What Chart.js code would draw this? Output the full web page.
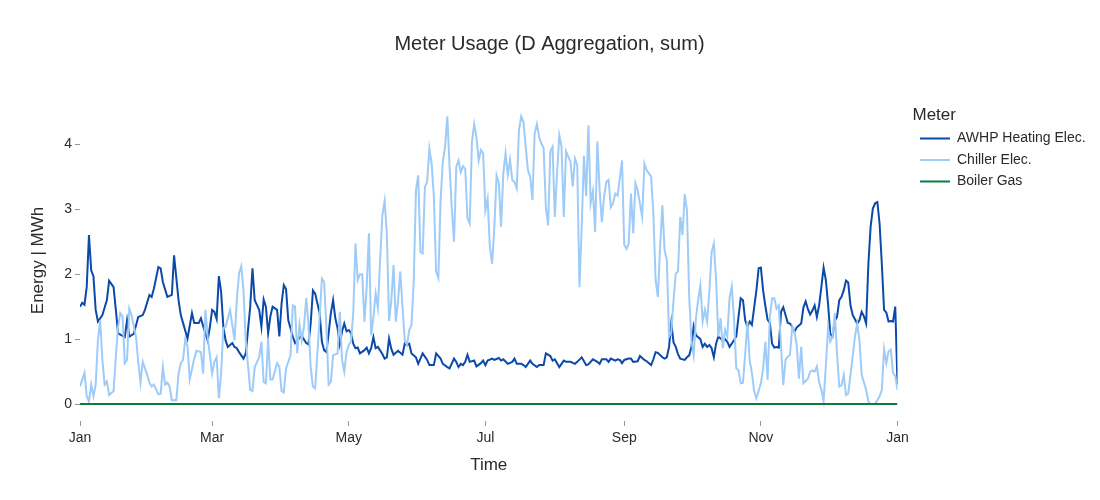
<!DOCTYPE html>
<html>
<head>
<meta charset="utf-8">
<title>Meter Usage</title>
<script src="https://cdn.jsdelivr.net/npm/chart.js@4.4.1/dist/chart.umd.min.js"></script>
<style>
  html, body { margin: 0; padding: 0; background: #fff; }
  #wrap { width: 1100px; height: 500px; }
</style>
</head>
<body>
<div id="wrap"><canvas id="meterChart" width="1100" height="500"></canvas></div>
<script>
// day of year (0 = Jan 1) and daily energy in MWh
const awhpPoints = [
  [0,1.50],[1,1.56],[2,1.53],[3,1.80],[4,2.60],[5,2.06],[6,1.97],[7,1.45],[8,1.27],[10,1.37],
  [12,1.60],[13,1.90],[15,1.80],[16,1.45],[17,1.09],[20,1.03],[21,1.29],[22,1.04],[24,1.08],[26,1.34],
  [28,1.37],[29,1.45],[31,1.68],[32,1.65],[33,1.78],[35,2.11],[36,2.09],[37,1.88],[39,1.65],[41,1.68],
  [42,2.29],[44,1.60],[45,1.37],[46,1.25],[48,1.01],[50,1.40],[51,1.25],[53,1.25],[54,1.32],[55,1.20],
  [57,0.98],[58,1.19],[59,1.45],[60,1.42],[61,1.31],[62,1.97],[63,1.73],[64,1.19],[65,0.98],[66,0.88],
  [68,0.94],[69,0.88],[70,0.86],[71,0.80],[73,0.70],[74,0.78],[76,1.50],[77,2.09],[78,1.60],[80,1.45],
  [81,1.19],[82,1.61],[83,1.50],[84,1.09],[85,1.35],[86,1.50],[88,1.45],[89,1.04],[90,1.55],[91,1.83],
  [92,1.77],[93,1.29],[95,1.04],[96,0.94],[97,0.98],[98,1.02],[99,1.05],[101,0.94],[102,0.92],[103,1.24],
  [104,1.75],[105,1.70],[107,1.40],[108,0.96],[109,0.83],[110,0.80],[111,1.09],[112,1.40],[113,1.60],[114,1.32],
  [115,1.17],[116,0.92],[117,1.12],[118,1.24],[119,1.12],[120,1.14],[121,1.09],[122,0.93],[123,0.86],[124,0.87],
  [125,0.78],[127,0.83],[128,0.87],[129,0.78],[130,0.86],[131,1.03],[132,0.86],[133,0.88],[135,0.77],[136,0.70],
  [137,0.72],[138,1.01],[139,0.85],[140,0.76],[141,0.79],[142,0.82],[144,0.76],[145,0.93],[146,0.91],[147,0.93],
  [148,0.78],[150,0.72],[151,0.62],[152,0.70],[153,0.78],[155,0.68],[156,0.60],[158,0.60],[159,0.78],[161,0.70],
  [162,0.62],[164,0.57],[165,0.55],[167,0.70],[168,0.65],[169,0.57],[170,0.62],[171,0.60],[172,0.65],[173,0.76],
  [174,0.65],[176,0.67],[177,0.58],[179,0.63],[180,0.67],[181,0.60],[182,0.67],[184,0.70],[185,0.68],[187,0.71],
  [188,0.67],[189,0.69],[191,0.62],[193,0.65],[194,0.70],[195,0.62],[197,0.62],[198,0.60],[199,0.57],[201,0.67],
  [202,0.62],[204,0.57],[205,0.60],[207,0.60],[208,0.78],[210,0.74],[211,0.67],[212,0.69],[214,0.57],[216,0.67],
  [217,0.65],[219,0.65],[221,0.62],[222,0.65],[224,0.72],[226,0.60],[227,0.61],[229,0.69],[231,0.65],[232,0.62],
  [233,0.69],[235,0.69],[236,0.65],[237,0.70],[239,0.67],[240,0.69],[241,0.68],[242,0.63],[243,0.68],[245,0.70],
  [246,0.70],[247,0.65],[249,0.66],[250,0.74],[252,0.68],[253,0.66],[255,0.60],[256,0.69],[257,0.80],[258,0.79],
  [260,0.72],[261,0.70],[262,0.72],[263,0.88],[264,1.25],[265,0.95],[266,0.88],[267,0.77],[268,0.70],[270,0.68],
  [271,0.72],[272,0.75],[273,0.88],[274,1.20],[275,1.06],[277,1.00],[278,0.88],[279,0.93],[280,0.88],[281,0.91],
  [282,0.86],[283,0.72],[284,0.93],[285,1.04],[287,0.98],[288,1.00],[289,0.96],[290,0.88],[291,0.93],[293,1.04],
  [294,1.34],[295,1.63],[296,1.60],[297,1.29],[298,1.19],[299,1.27],[300,1.22],[302,1.75],[303,2.09],[304,2.10],
  [305,1.75],[306,1.51],[307,1.30],[308,1.25],[309,0.93],[310,0.87],[311,0.88],[312,0.87],[313,1.42],[314,1.49],
  [315,1.37],[316,1.25],[317,1.24],[318,1.19],[319,1.11],[320,1.18],[322,1.24],[323,1.49],[324,1.58],[325,1.46],
  [326,1.38],[327,1.44],[328,1.52],[329,1.34],[330,1.52],[331,1.80],[332,2.10],[333,1.91],[334,1.54],[335,1.08],
  [336,1.04],[337,1.28],[338,1.34],[339,1.60],[340,1.65],[341,1.75],[342,1.90],[343,1.87],[344,1.52],[345,1.37],
  [347,1.24],[348,1.29],[349,1.42],[350,1.35],[351,1.24],[352,2.16],[353,2.73],[354,3.01],[355,3.09],[356,3.11],
  [357,2.78],[358,2.16],[359,1.45],[360,1.41],[361,1.27],[362,1.28],[363,1.27],[364,1.50],[365,0.30]
];

const chillerPoints = [
  [0,0.27],[2,0.48],[3,0.12],[4,0.04],[5,0.30],[6,0.12],[7,0.30],[8,0.98],[9,1.29],[10,0.68],
  [11,0.30],[12,0.35],[13,0.14],[15,0.20],[16,0.73],[17,1.19],[18,1.40],[19,1.35],[20,0.63],[21,0.68],
  [22,1.47],[23,1.37],[25,1.04],[26,0.65],[27,0.33],[28,0.65],[30,0.45],[31,0.33],[32,0.27],[33,0.30],
  [35,0.15],[36,0.16],[37,0.57],[38,0.30],[39,0.33],[40,0.27],[41,0.06],[43,0.06],[44,0.47],[45,0.63],
  [46,0.68],[47,1.00],[48,0.89],[49,0.38],[51,0.70],[52,0.82],[54,0.80],[55,0.47],[56,1.45],[57,1.04],
  [58,0.75],[59,0.47],[60,0.65],[61,0.72],[62,0.09],[63,0.47],[64,1.17],[65,1.19],[67,1.45],[68,1.22],
  [69,0.98],[70,1.60],[71,2.01],[72,2.12],[73,1.75],[74,0.98],[76,0.22],[77,0.20],[78,0.57],[80,0.72],
  [81,0.96],[82,0.34],[83,0.32],[84,1.00],[85,0.38],[86,0.38],[88,0.63],[89,0.57],[90,0.20],[91,0.18],
  [92,0.55],[94,0.75],[95,1.52],[96,1.50],[97,0.78],[98,1.22],[99,0.98],[100,1.19],[101,1.63],[102,1.24],
  [103,0.57],[104,0.27],[105,0.24],[107,1.34],[108,1.93],[109,1.88],[110,1.19],[111,0.30],[112,0.34],[113,0.75],
  [115,0.78],[116,1.42],[117,0.68],[118,0.50],[119,0.80],[120,0.91],[121,0.96],[122,1.40],[123,2.47],[124,1.91],
  [125,2.00],[126,2.00],[127,1.27],[128,1.80],[129,2.63],[130,1.06],[131,1.33],[132,1.70],[133,1.48],[134,2.22],
  [135,2.91],[136,3.13],[137,2.63],[138,1.28],[139,1.59],[140,2.14],[141,1.27],[142,1.59],[143,2.04],[144,1.49],
  [145,0.98],[146,0.91],[147,1.14],[148,1.22],[149,1.88],[150,3.29],[151,3.52],[152,2.34],[153,2.32],[154,3.34],
  [155,3.42],[156,3.93],[157,3.70],[158,3.19],[159,2.04],[160,1.94],[161,3.14],[162,3.73],[163,3.96],[164,4.43],
  [165,3.66],[166,3.01],[167,2.50],[168,3.65],[169,3.75],[170,3.57],[171,3.66],[172,3.62],[173,2.86],[174,2.78],
  [175,4.04],[176,4.31],[177,4.11],[178,3.75],[179,3.91],[180,3.86],[181,2.98],[182,3.16],[183,2.42],[184,2.16],
  [185,2.72],[186,3.52],[187,3.40],[188,2.73],[189,3.55],[190,3.86],[191,3.53],[192,3.76],[193,3.45],[194,3.42],
  [195,3.32],[196,4.22],[197,4.43],[198,4.34],[199,3.96],[200,3.60],[201,3.50],[202,3.14],[203,4.16],[204,4.31],
  [205,4.11],[206,4.01],[207,3.94],[208,3.04],[209,2.75],[210,3.89],[211,3.96],[212,2.88],[213,3.55],[214,4.14],
  [215,3.96],[216,2.88],[217,3.89],[218,3.81],[219,3.73],[220,3.35],[221,3.78],[222,3.68],[223,1.80],[224,2.72],
  [225,3.82],[226,3.20],[227,4.29],[228,3.09],[229,3.28],[230,2.65],[231,4.04],[232,3.29],[233,2.80],[234,3.19],
  [235,3.42],[236,3.45],[237,3.03],[238,3.09],[239,3.24],[240,3.21],[241,3.47],[242,3.75],[243,2.45],[244,2.39],
  [245,2.47],[246,3.24],[247,2.63],[248,3.40],[249,3.29],[251,2.88],[252,3.70],[253,3.60],[255,3.50],[256,2.93],
  [257,1.91],[258,1.65],[259,2.42],[260,3.06],[261,2.37],[262,2.22],[263,1.04],[264,1.11],[265,1.60],[266,2.01],
  [267,2.04],[268,2.88],[269,2.60],[270,3.23],[271,2.98],[272,1.65],[273,0.98],[274,0.75],[275,1.32],[276,1.60],
  [277,1.83],[278,1.27],[279,1.45],[280,1.27],[281,1.73],[282,2.34],[283,2.47],[284,1.91],[285,1.04],[286,1.32],
  [287,0.86],[288,1.14],[289,1.04],[290,1.63],[291,1.81],[292,1.32],[293,0.55],[294,0.52],[295,0.32],[296,0.33],
  [297,0.77],[298,1.27],[299,0.67],[300,0.48],[301,0.20],[302,0.09],[304,0.32],[305,0.55],[306,0.96],[307,0.37],
  [308,1.34],[309,1.63],[310,1.63],[311,1.47],[312,1.52],[313,0.88],[314,0.29],[315,0.68],[316,0.73],[317,0.76],
  [318,1.19],[319,1.11],[320,0.91],[321,0.39],[322,0.88],[323,0.32],[325,0.39],[326,0.50],[327,0.52],[328,0.50],
  [329,0.58],[330,0.34],[331,0.22],[332,0.05],[333,0.58],[334,1.18],[335,0.96],[336,1.04],[337,1.40],[338,0.78],
  [339,0.27],[340,0.29],[341,0.45],[342,0.14],[343,0.16],[344,0.45],[345,0.73],[346,1.04],[347,1.24],[348,0.98],
  [349,0.45],[351,0.22],[352,0.04],[353,0.00],[355,0.00],[357,0.12],[358,0.22],[359,0.84],[360,0.63],[361,0.81],
  [362,0.84],[363,0.48],[364,0.43],[365,0.22]
];

const boilerPoints = [[0,0],[365,0]];

const seriesNames = ['AWHP Heating Elec.', 'Chiller Elec.', 'Boiler Gas'];
const seriesColors = ['#0b4aa8', '#9ecbf7', '#0a7d3e'];

const monthTickDays = [0, 59, 120, 181, 243, 304, 365];
const monthTickLabels = ['Jan', 'Mar', 'May', 'Jul', 'Sep', 'Nov', 'Jan'];
const energyTicks = [0, 1, 2, 3, 4];

const FONT = "'Liberation Sans', Arial, sans-serif";
const TEXT = '#2a2a2a';
Chart.defaults.font.family = FONT;
Chart.defaults.color = TEXT;

function toXY(points) {
    return points.map(p => ({ x: p[0], y: p[1] }));
}

const allPoints = [awhpPoints, chillerPoints, boilerPoints];

const datasets = allPoints.map((pts, i) => ({
    label: seriesNames[i],
    data: toXY(pts),
    borderColor: seriesColors[i],
    backgroundColor: seriesColors[i],
    borderWidth: 2,
    pointRadius: 0,
    tension: 0,
    fill: false,
    order: allPoints.length - i   // later traces sit on top, like the original
}));

const ctx = document.getElementById('meterChart').getContext('2d');
new Chart(ctx, {
    type: 'line',
    data: { datasets: datasets },
    options: {
        responsive: false,
        animation: false,
        devicePixelRatio: 1,
        layout: { padding: { left: 5, right: 6, top: 0, bottom: 0 } },
        plugins: {
            title: {
                display: true,
                text: 'Meter Usage (D Aggregation, sum)',
                font: { size: 20, weight: 'normal', lineHeight: 1.2 },
                color: TEXT,
                padding: { top: 32, bottom: 44 }
            },
            legend: {
                position: 'right',
                align: 'start',
                fullSize: false,
                title: {
                    display: true,
                    text: 'Meter',
                    position: 'start',
                    font: { size: 17, lineHeight: 1 },
                    color: TEXT,
                    padding: { top: 7, bottom: 0 }
                },
                labels: {
                    usePointStyle: true,
                    pointStyle: 'line',
                    pointStyleWidth: 30,
                    padding: 7.5,
                    font: { size: 14 },
                    color: TEXT,
                    sort: (a, b) => a.datasetIndex - b.datasetIndex
                }
            },
            tooltip: { enabled: false }
        },
        scales: {
            x: {
                type: 'linear',
                min: 0,
                max: 365,
                afterFit: s => { s.height = 79; },
                afterBuildTicks: s => { s.ticks = monthTickDays.map(v => ({ value: v })); },
                ticks: {
                    autoSkip: false,
                    maxRotation: 0,
                    padding: 4,
                    font: { size: 14 },
                    color: TEXT,
                    callback: v => monthTickLabels[monthTickDays.indexOf(v)]
                },
                grid: { drawOnChartArea: false, drawTicks: true, tickLength: 5, tickColor: '#9a9a9a' },
                border: { display: false },
                title: {
                    display: true,
                    text: 'Time',
                    font: { size: 17, lineHeight: 1.2 },
                    color: TEXT,
                    padding: { top: 4, bottom: 24 }
                }
            },
            y: {
                type: 'linear',
                min: -0.26,
                max: 4.68,
                afterFit: s => { s.width = 75; },
                afterBuildTicks: s => { s.ticks = energyTicks.map(v => ({ value: v })); },
                ticks: { padding: 3, font: { size: 14 }, color: TEXT },
                grid: { drawOnChartArea: false, drawTicks: true, tickLength: 5, tickColor: '#9a9a9a' },
                border: { display: false },
                title: {
                    display: true,
                    text: 'Energy | MWh',
                    font: { size: 17, lineHeight: 1.2 },
                    color: TEXT,
                    padding: { top: 23, bottom: 4 }
                }
            },
            // empty strip between plot and legend
            gap: {
                type: 'linear',
                position: 'right',
                display: true,
                afterFit: s => { s.width = 15; },
                ticks: { display: false },
                grid: { display: false },
                border: { display: false }
            }
        }
    }
});
</script>
</body>
</html>
